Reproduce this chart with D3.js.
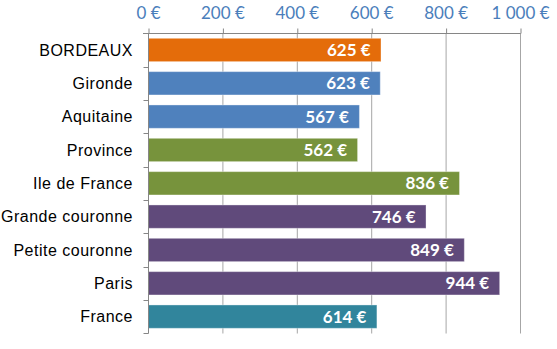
<!DOCTYPE html>
<html><head><meta charset="utf-8">
<script src="https://cdn.jsdelivr.net/npm/d3@7"></script>
<style>body{margin:0;background:#fff}svg{display:block}</style>
</head><body>
<script>
const categories = ["BORDEAUX","Gironde","Aquitaine","Province","Ile de France","Grande couronne","Petite couronne","Paris","France"];
const values = [625,623,567,562,836,746,849,944,614];
const colors = ["#e46c0a","#4f81bd","#4f81bd","#77933c","#77933c","#604a7b","#604a7b","#604a7b","#31859c"];
const tickValues = [0,200,400,600,800,1000];
const tickLabels = ["0 €","200 €","400 €","600 €","800 €","1 000 €"];

const W=557,H=349;
const svg=d3.select("body").append("svg").attr("width",W).attr("height",H);
const x=d3.scaleLinear().domain([0,1000]).range([148,520]);
const y=d3.scaleBand().domain(categories).range([33.3,333.3]).paddingInner(0.3).paddingOuter(0.15);

// gridlines
svg.append("g").selectAll("line").data(tickValues.slice(1)).join("line")
  .attr("x1",d=>x(d)+0.5).attr("x2",d=>x(d)+0.5).attr("y1",33).attr("y2",333.5)
  .attr("stroke","#a6a6a6").attr("stroke-width",1);

// top axis
const xa=svg.append("g").attr("transform","translate(0,33.5)")
  .call(d3.axisTop(x).tickValues(tickValues).tickFormat((d,i)=>tickLabels[i]).tickSize(5).tickSizeOuter(0));
xa.select(".domain").attr("stroke","#868686").attr("d",`M${143},0H${x(1000)+0.5}`);
xa.selectAll(".tick line").attr("stroke","#868686").attr("transform","translate(0.5,0)");
xa.selectAll(".tick text").attr("fill","#4a7ebb").attr("font-family","Lato, 'Open Sans', sans-serif")
  .attr("font-size","17px").attr("y",-15).attr("dy","0");

// bars
svg.append("g").selectAll("rect").data(values).join("rect")
  .attr("x",x(0)+0.5).attr("y",(d,i)=>y(categories[i]))
  .attr("width",d=>x(d)-x(0)).attr("height",y.bandwidth())
  .attr("fill",(d,i)=>colors[i]).attr("stroke","rgba(255,255,255,0.35)").attr("stroke-width",1);

// value labels
svg.append("g").selectAll("text").data(values).join("text")
  .attr("x",d=>x(d)-10).attr("y",(d,i)=>y(categories[i])+y.bandwidth()/2)
  .attr("dy","0.36em").attr("text-anchor","end").attr("fill","#fff")
  .attr("font-family","Lato, 'Open Sans', sans-serif").attr("font-weight","bold").attr("font-size","17px")
  .text(d=>d+" €");

// left axis
const ya=svg.append("g").attr("transform","translate(148.5,0)");
ya.append("line").attr("x1",0).attr("x2",0).attr("y1",33).attr("y2",333.5).attr("stroke","#868686");
const bounds=d3.range(categories.length+1).map(i=>33.3+i*300/categories.length);
ya.selectAll("line.t").data(bounds).join("line").attr("class","t")
  .attr("x1",-5).attr("x2",0).attr("y1",d=>Math.round(d)+0.5).attr("y2",d=>Math.round(d)+0.5).attr("stroke","#868686");
svg.append("g").selectAll("text").data(categories).join("text")
  .attr("x",133).attr("y",d=>y(d)+y.bandwidth()/2).attr("dy","0.36em").attr("text-anchor","end")
  .attr("font-family","'Liberation Sans', Arial, sans-serif").attr("font-size","16px").attr("letter-spacing","0.5px").attr("fill","#000")
  .text(d=>d);
</script>
</body></html>
